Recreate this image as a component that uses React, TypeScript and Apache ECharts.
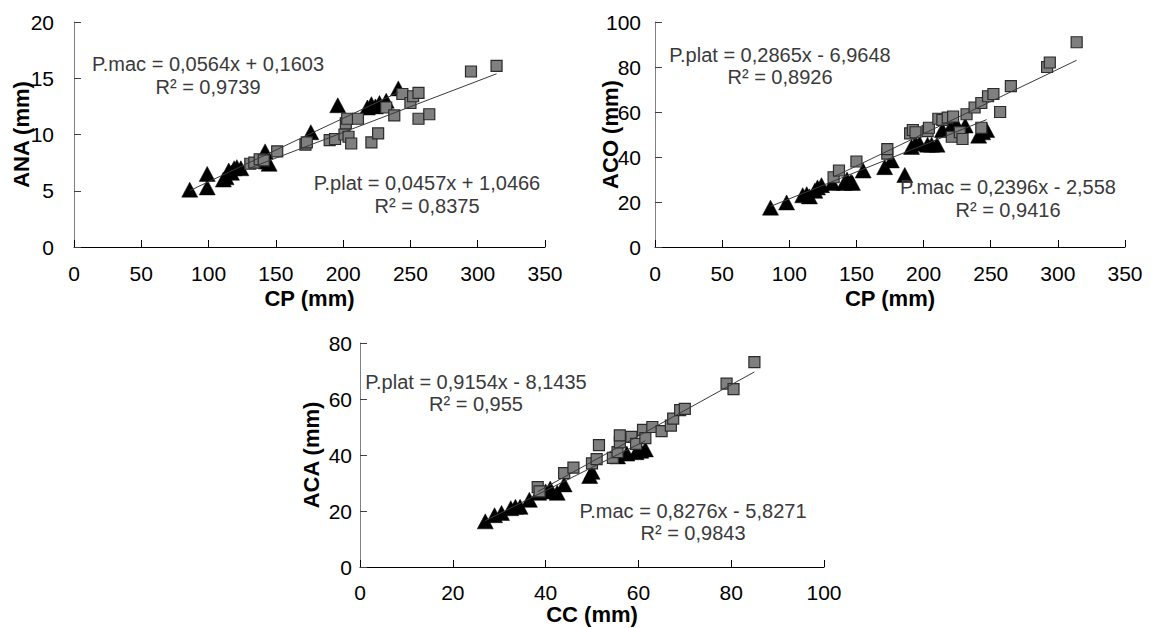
import React, { useEffect, useRef } from "react";
import * as echarts from "echarts";

// ---- Panel 1: ANA vs CP ----
const anaMac: number[][] = [
  [86, 5.1], [99, 6.5], [99, 5.3], [111, 6.0], [113, 6.2], [115, 6.8], [117, 6.6], [119, 7.0],
  [121, 7.1], [124, 7.0], [142, 8.5], [143, 7.6], [145, 7.4], [176, 10.2], [196, 12.6],
  [218, 12.4], [221, 12.7], [224, 12.5], [227, 12.8], [232, 13.0], [241, 14.1],
];
const anaPlat: number[][] = [
  [131, 7.4], [134, 7.5], [138, 7.8], [141, 7.7], [151, 8.5], [172, 9.1], [173, 9.3], [190, 9.5],
  [194, 9.6], [201, 10.0], [202, 11.0], [203, 11.4], [204, 9.8], [206, 9.2], [211, 11.4],
  [221, 9.3], [226, 10.1], [232, 12.4], [238, 11.7], [244, 13.6], [250, 12.8], [252, 13.4],
  [256, 13.7], [256, 11.4], [264, 11.8], [295, 15.6], [314, 16.1],
];

// ---- Panel 2: ACO vs CP ----
const acoMac: number[][] = [
  [86, 17.5], [98, 19.8], [110, 23], [113, 23.5], [115, 22.5], [119, 25], [121, 26.5], [124, 27.5],
  [132, 28.5], [141, 28.5], [143, 30], [146, 29], [147, 28.5], [155, 34], [171, 35.5], [176, 38.5],
  [186, 32], [191, 44.5], [194, 46], [197, 46], [203, 45.5], [206, 45.5], [210, 45.5], [214, 52],
  [220, 53], [224, 55], [231, 54], [241, 49.5], [244, 51], [247, 52],
];
const acoPlat: number[][] = [
  [133, 31], [137, 34], [150, 38], [173, 41.5], [173, 43.5], [190, 50.5], [192, 52], [194, 51],
  [203, 51.5], [204, 53], [211, 57], [214, 56.5], [218, 57.5], [222, 58], [221, 49], [227, 51],
  [229, 48], [232, 59], [238, 62], [243, 64], [243, 53], [248, 67], [252, 68], [257, 60],
  [265, 71.5], [292, 80], [294, 82], [314, 91],
];

// ---- Panel 3: ACA vs CC ----
const acaMac: number[][] = [
  [27, 16.3], [29, 18.5], [30.5, 19.3], [32.5, 21], [33.5, 21.5], [34.5, 21.5], [36.5, 24],
  [38.5, 26.5], [40, 27], [41, 28], [42.5, 26.5], [44, 29.5], [49.5, 32.5], [50, 34],
  [55.5, 39.5], [57.5, 40.5], [59.5, 41], [60.5, 41.5], [61.5, 42],
];
const acaPlat: number[][] = [
  [38.3, 28.5], [38.7, 27], [44, 33.5], [46, 35.5], [50, 37], [51, 38.5], [51.5, 43.5],
  [54.5, 39], [55.5, 41], [56, 44.5], [56, 47], [58.5, 46.5], [59.5, 44], [61, 49], [61.5, 46],
  [63, 50], [65, 48.5], [67, 50.5], [67.5, 53], [69, 56], [70, 56.5], [79, 65.5], [80.5, 63.5],
  [85, 73.2],
];

// regression coefficients [slope, intercept]
const fitAnaMac = [0.0564, 0.1603];
const fitAnaPlat = [0.0457, 1.0466];
const fitAcoPlat = [0.2865, -6.9648];
const fitAcoMac = [0.2396, -2.558];
const fitAcaPlat = [0.9154, -8.1435];
const fitAcaMac = [0.8276, -5.8271];

// axis ranges [min, max, interval]
const cpAxis = [0, 350, 50];
const anaAxis = [0, 20, 5];
const acoAxis = [0, 100, 20];
const ccAxis = [0, 100, 20];
const acaAxis = [0, 80, 20];

const FONT = '"Liberation Sans", Arial, sans-serif';

function trend(pts: number[][], fit: number[]) {
  const xs = pts.map((p) => p[0]);
  const a = Math.min(...xs);
  const b = Math.max(...xs);
  return [
    [a, fit[0] * a + fit[1]],
    [b, fit[0] * b + fit[1]],
  ];
}

function xAxisCfg(grid: number, r: number[], name: string, margin: number, gap: number) {
  return {
    gridIndex: grid,
    type: "value",
    min: r[0],
    max: r[1],
    interval: r[2],
    name,
    nameLocation: "middle",
    nameGap: gap,
    nameMoveOverlap: false,
    nameTextStyle: { fontWeight: "bold", fontSize: 22, color: "#000", fontFamily: FONT },
    axisLine: { show: true, onZero: false, lineStyle: { color: "#000", width: 1 } },
    axisTick: { show: true, inside: true, length: 7, lineStyle: { color: "#000" } },
    axisLabel: { fontSize: 21, color: "#000", fontFamily: FONT, margin },
    splitLine: { show: false },
  };
}

function yAxisCfg(grid: number, r: number[], name: string, margin: number, gap: number) {
  return {
    gridIndex: grid,
    type: "value",
    min: r[0],
    max: r[1],
    interval: r[2],
    name,
    nameLocation: "middle",
    nameGap: gap,
    nameRotate: 90,
    nameMoveOverlap: false,
    nameTextStyle: { fontWeight: "bold", fontSize: 22, color: "#000", fontFamily: FONT },
    axisLine: { show: true, onZero: false, lineStyle: { color: "#808080", width: 1 } },
    axisTick: { show: true, inside: true, length: 7, lineStyle: { color: "#404040" } },
    axisLabel: { fontSize: 21, color: "#000", fontFamily: FONT, margin },
    splitLine: { show: false },
  };
}

function tri(idx: number, data: number[][]) {
  return {
    type: "scatter",
    xAxisIndex: idx,
    yAxisIndex: idx,
    data,
    symbol: "triangle",
    symbolSize: [16, 15],
    itemStyle: { color: "#000", borderColor: "#000", borderWidth: 0.5, opacity: 1 },
    z: 2,
  };
}

function sq(idx: number, data: number[][]) {
  return {
    type: "scatter",
    xAxisIndex: idx,
    yAxisIndex: idx,
    data,
    symbol: "rect",
    symbolSize: 11,
    itemStyle: { color: "#7f7f7f", borderColor: "#2b2b2b", borderWidth: 1.2, opacity: 1 },
    z: 3,
  };
}

function line(idx: number, data: number[][]) {
  return {
    type: "line",
    xAxisIndex: idx,
    yAxisIndex: idx,
    data,
    symbol: "none",
    lineStyle: { color: "#3a3a3a", width: 1 },
    z: 4,
  };
}

function label(x: number, y: number, text: string) {
  return {
    type: "text",
    x,
    y,
    z: 10,
    style: {
      text,
      fill: "#3a3a3a",
      font: `20px ${FONT}`,
      align: "center",
      verticalAlign: "middle",
    },
  };
}

export default function App() {
  const ref = useRef<HTMLDivElement>(null);
  useEffect(() => {
    document.body.style.margin = "0";
    const chart = echarts.init(ref.current!, null, { renderer: "svg" });
    chart.setOption({
      animation: false,
      backgroundColor: "#fff",
      grid: [
        { left: 74, top: 22, width: 471, height: 225, containLabel: false, outerBoundsMode: "none" },
        { left: 655, top: 22, width: 470, height: 225, containLabel: false, outerBoundsMode: "none" },
        { left: 360, top: 343, width: 464, height: 224, containLabel: false, outerBoundsMode: "none" },
      ],
      xAxis: [
        xAxisCfg(0, cpAxis, "CP (mm)", 16, 40),
        xAxisCfg(1, cpAxis, "CP (mm)", 16, 40),
        xAxisCfg(2, ccAxis, "CC (mm)", 15, 36),
      ],
      yAxis: [
        yAxisCfg(0, anaAxis, "ANA (mm)", 20, 42),
        yAxisCfg(1, acoAxis, "ACO (mm)", 14, 34),
        yAxisCfg(2, acaAxis, "ACA (mm)", 8, 38),
      ],
      series: [
        tri(0, anaMac),
        sq(0, anaPlat),
        line(0, trend(anaMac, fitAnaMac)),
        line(0, trend(anaPlat, fitAnaPlat)),
        tri(1, acoMac),
        sq(1, acoPlat),
        line(1, trend(acoPlat, fitAcoPlat)),
        line(1, trend(acoMac, fitAcoMac)),
        tri(2, acaMac),
        sq(2, acaPlat),
        line(2, trend(acaPlat, fitAcaPlat)),
        line(2, trend(acaMac, fitAcaMac)),
      ],
      graphic: [
        label(208, 64, "P.mac = 0,0564x + 0,1603"),
        label(208, 87, "R² = 0,9739"),
        label(427, 183, "P.plat = 0,0457x + 1,0466"),
        label(427, 206, "R² = 0,8375"),
        label(780, 55, "P.plat = 0,2865x - 6,9648"),
        label(780, 77, "R² = 0,8926"),
        label(1008, 187, "P.mac = 0,2396x - 2,558"),
        label(1008, 210, "R² = 0,9416"),
        label(476, 382, "P.plat = 0,9154x - 8,1435"),
        label(476, 404, "R² = 0,955"),
        label(693, 511, "P.mac = 0,8276x - 5,8271"),
        label(693, 533, "R² = 0,9843"),
      ],
    });
    return () => chart.dispose();
  }, []);
  return <div ref={ref} style={{ width: 1155, height: 628 }} />;
}
